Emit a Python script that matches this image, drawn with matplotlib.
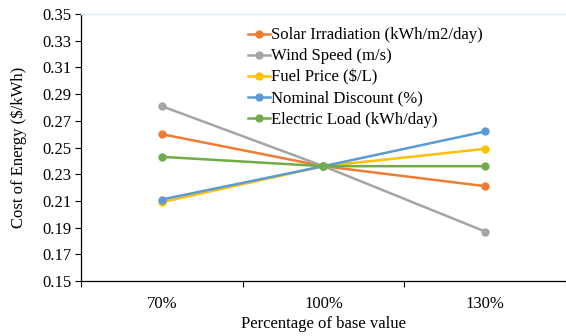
import numpy as np
import matplotlib.pyplot as plt
from matplotlib.ticker import FixedLocator

plt.rcParams["font.family"] = ["Liberation Serif", "DejaVu Serif"]
plt.rcParams["mathtext.default"] = "regular"

# Data
categories = ["70%", "100%", "130%"]
series_names = [
    "Solar Irradiation (kWh/m2/day)",
    "Wind Speed (m/s)",
    "Fuel Price (\\$/L)",
    "Nominal Discount (%)",
    "Electric Load (kWh/day)",
]
solar = [0.260, 0.236, 0.221]
wind = [0.281, 0.236, 0.187]
fuel = [0.209, 0.236, 0.249]
discount = [0.211, 0.236, 0.262]
load = [0.243, 0.236, 0.236]
colors = ["#ED7D31", "#A5A5A5", "#FFC000", "#5B9BD5", "#70AD47"]


def create_line_chart():
    fig = plt.figure(figsize=(5.66, 3.36), dpi=100)
    ax = fig.add_axes([0.143, 0.164, 0.857, 0.794])
    x = np.arange(len(categories))
    for name, values, color in zip(series_names, [solar, wind, fuel, discount, load], colors):
        ax.plot(x, values, color=color, lw=1.8, marker="o", ms=5, label=name)

    ax.set_xlim(-0.5, 2.5)
    ax.set_ylim(0.15, 0.35)
    ax.set_yticks(np.arange(0.15, 0.351, 0.02))
    ax.set_yticklabels([f"{v:.2f}" for v in np.arange(0.15, 0.351, 0.02)])
    ax.set_xticks(x)
    ax.set_xticklabels(categories)
    ax.xaxis.set_minor_locator(FixedLocator([-0.5, 0.5, 1.5, 2.5]))
    ax.tick_params(axis="x", which="major", length=0, pad=11, labelsize=12)
    ax.tick_params(axis="x", which="minor", length=4, width=0.8, direction="out")
    ax.tick_params(axis="y", length=4, width=0.8, direction="out", labelsize=12, pad=3)

    ax.spines["right"].set_visible(False)
    ax.spines["top"].set_color("#DDEBF7")
    ax.spines["top"].set_linewidth(1.0)
    ax.spines["left"].set_linewidth(0.9)
    ax.spines["bottom"].set_linewidth(0.9)

    ax.set_xlabel("Percentage of base value", fontsize=12, labelpad=3)
    ax.set_ylabel("Cost of Energy (\\$/kWh)", fontsize=12, labelpad=11)

    ax.legend(loc="upper left", bbox_to_anchor=(0.331, 0.975), frameon=False,
              fontsize=12, handlelength=1.3, handletextpad=0.1,
              labelspacing=0.3, borderaxespad=0)

    fig.savefig("out.png", dpi=100)


create_line_chart()
